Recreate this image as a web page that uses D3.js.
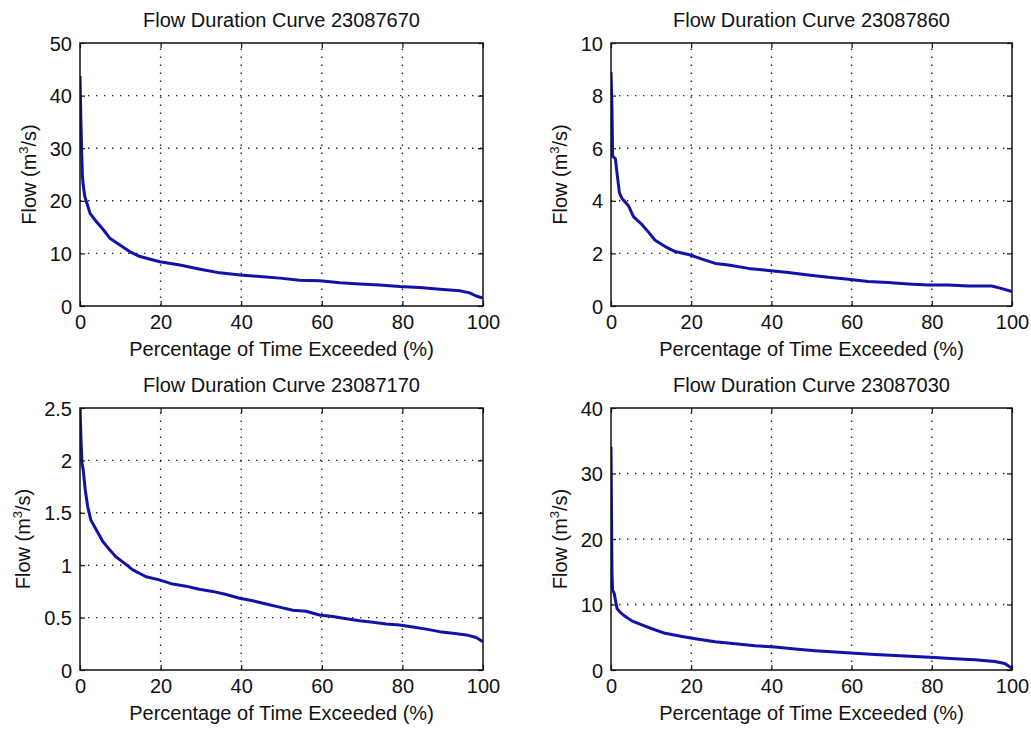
<!DOCTYPE html>
<html>
<head>
<meta charset="utf-8">
<script src="https://cdn.jsdelivr.net/npm/d3@7"></script>
<style>
  html, body { margin: 0; padding: 0; background: #fff; }
  svg { display: block; }
  text { font-family: "Liberation Sans", Arial, sans-serif; fill: #111; }
</style>
</head>
<body>
<svg id="chart" width="1031" height="730"></svg>
<script>
// ---------- DATA ----------
const titles = [
  "Flow Duration Curve 23087670",
  "Flow Duration Curve 23087860",
  "Flow Duration Curve 23087170",
  "Flow Duration Curve 23087030"
];
const xTicks = [0, 20, 40, 60, 80, 100];
const yTicks1 = [0, 10, 20, 30, 40, 50];
const yTicks2 = [0, 2, 4, 6, 8, 10];
const yTicks3 = [0, 0.5, 1, 1.5, 2, 2.5];
const yTicks4 = [0, 10, 20, 30, 40];
const xLabel = "Percentage of Time Exceeded (%)";

// Panel 1: 23087670
const pct1  = [0, 0.2, 0.4, 0.6, 0.8, 1.2, 2.5, 4.1, 5.8, 7.4, 9.9, 12.4, 14.9, 19.8, 24.8, 29.8, 34.7, 39.7, 44.6, 49.6, 54.5, 59.5, 64.5, 69.4, 74.4, 79.3, 84.3, 89.3, 94.2, 96.7, 98.3, 100];
const flow1 = [43.7, 36, 30, 24.6, 23, 20.8, 17.6, 16, 14.5, 12.9, 11.6, 10.3, 9.4, 8.4, 7.8, 7.0, 6.3, 5.9, 5.6, 5.3, 4.9, 4.8, 4.4, 4.2, 4.0, 3.7, 3.5, 3.2, 2.9, 2.5, 1.9, 1.5];
// Panel 2: 23087860
const pct2  = [0, 0.25, 0.4, 1.1, 1.5, 2.1, 2.7, 4.4, 5.6, 7.7, 9.4, 11, 13.5, 16, 19.8, 22.7, 26, 29.3, 34.3, 39.3, 44.2, 49.2, 54.2, 59.2, 64.1, 69.1, 74.1, 79.1, 84.1, 89, 94.9, 97.3, 100];
const flow2 = [8.9, 7.5, 5.7, 5.6, 5.05, 4.3, 4.1, 3.8, 3.4, 3.1, 2.8, 2.5, 2.26, 2.07, 1.94, 1.78, 1.62, 1.56, 1.43, 1.35, 1.27, 1.18, 1.09, 1.02, 0.93, 0.89, 0.84, 0.8, 0.8, 0.76, 0.76, 0.67, 0.55];
// Panel 3: 23087170
const pct3  = [0, 0.3, 0.5, 0.8, 1.3, 1.9, 2.7, 4, 5.6, 7.3, 8.9, 11, 13.1, 16.4, 19.7, 23, 26.3, 29.6, 32.9, 36.3, 39.6, 42.9, 46.2, 49.5, 52.8, 56.1, 59.4, 62.7, 66.1, 69.4, 72.7, 76, 79.3, 82.6, 85.9, 89.2, 92.5, 95.9, 98.3, 100];
const flow3 = [2.5, 2.15, 1.97, 1.91, 1.72, 1.56, 1.43, 1.34, 1.23, 1.15, 1.08, 1.02, 0.955, 0.89, 0.86, 0.82, 0.8, 0.77, 0.75, 0.72, 0.685, 0.66, 0.63, 0.6, 0.57, 0.56, 0.525, 0.51, 0.49, 0.47, 0.455, 0.44, 0.43, 0.41, 0.39, 0.366, 0.35, 0.335, 0.31, 0.27];
// Panel 4: 23087030
const pct4  = [0, 0.25, 0.4, 0.8, 1.1, 1.5, 2.3, 3.6, 5.2, 7.7, 10.2, 13.5, 17.7, 21.8, 26, 31, 35.9, 40.9, 45.9, 50.9, 55.9, 60.8, 65.8, 70.8, 75.8, 80.7, 85.7, 90.7, 95.7, 98.2, 100];
const flow4 = [34.1, 14.7, 12.2, 11.7, 10.7, 9.4, 8.8, 8.15, 7.5, 6.9, 6.3, 5.6, 5.1, 4.7, 4.3, 4.0, 3.7, 3.5, 3.2, 2.95, 2.75, 2.55, 2.35, 2.2, 2.05, 1.9, 1.7, 1.55, 1.3, 1.0, 0.25];

// ---------- LAYOUT ----------
const panels = [
  { title: titles[0], pct: pct1, flow: flow1, yTicks: yTicks1, x0: 80,  x1: 483,  y0: 43,  y1: 306 },
  { title: titles[1], pct: pct2, flow: flow2, yTicks: yTicks2, x0: 611, x1: 1012, y0: 43,  y1: 306 },
  { title: titles[2], pct: pct3, flow: flow3, yTicks: yTicks3, x0: 80,  x1: 483,  y0: 408, y1: 670 },
  { title: titles[3], pct: pct4, flow: flow4, yTicks: yTicks4, x0: 611, x1: 1012, y0: 408, y1: 670 }
];

const svg = d3.select("#chart");
const FS = 20;

panels.forEach((p, i) => {
  const x = d3.scaleLinear().domain([0, 100]).range([p.x0, p.x1]);
  const yMax = p.yTicks[p.yTicks.length - 1];
  const y = d3.scaleLinear().domain([0, yMax]).range([p.y1, p.y0]);
  const g = svg.append("g");

  // clip
  const cid = "clip" + i;
  svg.append("clipPath").attr("id", cid).append("rect")
    .attr("x", p.x0).attr("y", p.y0).attr("width", p.x1 - p.x0).attr("height", p.y1 - p.y0);

  // grid (dotted)
  const gridStyle = sel => sel.attr("stroke", "#222").attr("stroke-width", 1.4)
    .attr("stroke-dasharray", "1.4,6.6").attr("fill", "none");
  g.selectAll(".vg").data(xTicks.filter(t => t > 0 && t < 100)).enter().append("line")
    .attr("x1", d => x(d)).attr("x2", d => x(d)).attr("y1", p.y1).attr("y2", p.y0).call(gridStyle);
  g.selectAll(".hg").data(p.yTicks.filter(t => t > 0 && t < yMax)).enter().append("line")
    .attr("y1", d => y(d)).attr("y2", d => y(d)).attr("x1", p.x0).attr("x2", p.x1).call(gridStyle);

  // curve
  const line = d3.line().x((d, k) => x(p.pct[k])).y(d => y(d));
  g.append("path").datum(p.flow)
    .attr("clip-path", "url(#" + cid + ")")
    .attr("d", line)
    .attr("fill", "none").attr("stroke", "#1212a8").attr("stroke-width", 3)
    .attr("stroke-linejoin", "round");

  // axes with inward ticks, mirrored
  const tl = 5;
  const axB = d3.axisBottom(x).tickValues(xTicks).tickSizeInner(-tl).tickSizeOuter(0).tickPadding(12).tickFormat(d3.format("~g"));
  const axT = d3.axisTop(x).tickValues(xTicks).tickSizeInner(-tl).tickSizeOuter(0).tickFormat("");
  const axL = d3.axisLeft(y).tickValues(p.yTicks).tickSizeInner(-tl).tickSizeOuter(0).tickPadding(12).tickFormat(d3.format("~g"));
  const axR = d3.axisRight(y).tickValues(p.yTicks).tickSizeInner(-tl).tickSizeOuter(0).tickFormat("");

  const styleAxis = (sel) => {
    sel.select(".domain").remove();
    sel.selectAll(".tick line").attr("stroke", "#111").attr("stroke-width", 1.2);
    sel.selectAll(".tick text").attr("font-size", FS).attr("fill", "#111")
      .attr("font-family", "'Liberation Sans', Arial, sans-serif");
  };
  const gb = g.append("g").attr("transform", `translate(0,${p.y1})`).call(axB).call(styleAxis);
  gb.selectAll(".tick text").attr("dy", "0.71em").attr("y", 9);
  g.append("g").attr("transform", `translate(0,${p.y0})`).call(axT).call(styleAxis);
  const gl = g.append("g").attr("transform", `translate(${p.x0},0)`).call(axL).call(styleAxis);
  gl.selectAll(".tick text").attr("x", -8).attr("dy", "0.35em");
  g.append("g").attr("transform", `translate(${p.x1},0)`).call(axR).call(styleAxis);

  // box
  g.append("rect").attr("x", p.x0).attr("y", p.y0)
    .attr("width", p.x1 - p.x0).attr("height", p.y1 - p.y0)
    .attr("fill", "none").attr("stroke", "#111").attr("stroke-width", 1.5);

  // title
  g.append("text").attr("x", (p.x0 + p.x1) / 2).attr("y", p.y0 - 16)
    .attr("text-anchor", "middle").attr("font-size", FS).text(p.title);

  // x label
  g.append("text").attr("x", (p.x0 + p.x1) / 2).attr("y", p.y1 + 50)
    .attr("text-anchor", "middle").attr("font-size", FS).text(xLabel);

  // y label: position based on widest tick label
  let maxW = 0;
  gl.selectAll(".tick text").each(function () { maxW = Math.max(maxW, this.getComputedTextLength()); });
  const lx = p.x0 - 8 - maxW - 14;
  const yl = g.append("text")
    .attr("transform", `translate(${lx},${(p.y0 + p.y1) / 2}) rotate(-90)`)
    .attr("text-anchor", "middle").attr("font-size", FS);
  yl.append("tspan").text("Flow (m");
  yl.append("tspan").attr("font-size", 13).attr("dy", -8).text("3");
  yl.append("tspan").attr("dy", 8).text("/s)");
});
</script>
</body>
</html>
